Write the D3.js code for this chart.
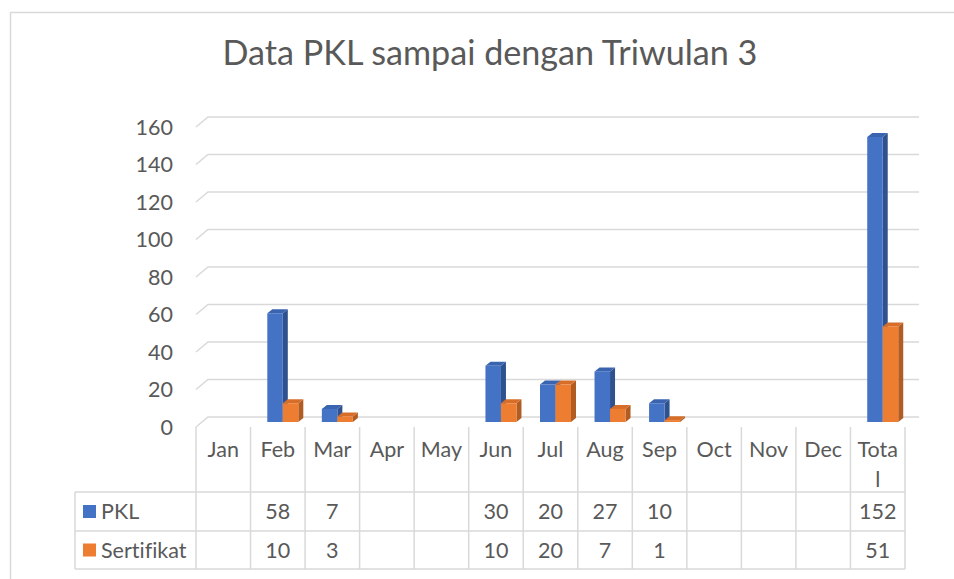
<!DOCTYPE html>
<html>
<head>
<meta charset="utf-8">
<script src="https://cdnjs.cloudflare.com/ajax/libs/d3/7.8.5/d3.min.js"></script>
<style>
  body { margin: 0; background: #fff; }
  svg text { font-family: Lato, "Open Sans", sans-serif; fill: #595959; font-variant-ligatures: none; }
</style>
</head>
<body>
<div id="chart"></div>
<script>
// Chart data
var categories = ["Jan", "Feb", "Mar", "Apr", "May", "Jun", "Jul", "Aug", "Sep", "Oct", "Nov", "Dec", "Total"];
var pkl        = [null, 58, 7, null, null, 30, 20, 27, 10, null, null, null, 152];
var sertifikat = [null, 10, 3, null, null, 10, 20, 7, 1, null, null, null, 51];
var seriesNames = ["PKL", "Sertifikat"];
var yTicks = [0, 20, 40, 60, 80, 100, 120, 140, 160];
var title = "Data PKL sampai dengan Triwulan 3";

var frame_width  = 954,
    frame_height = 579,
    front        = {left: 196, right: 905, floor: 427},
    depth        = {dx: 12, dy: -10},      // back wall offset from the front edge
    barDepth     = {dx: 5, dy: -4},
    barWidth     = 15.5,
    rowLines     = [492, 531, 569],
    tableLeft    = 75,
    fontSize     = 21.5;

var colors = [
    {front: "#4472C4", side: "#2F528F", top: "#3A64AF"},
    {front: "#ED7D31", side: "#B05C22", top: "#D66E2A"}
];

var svg = d3.select("#chart").append("svg")
    .attr("width", frame_width)
    .attr("height", frame_height);

// chart area border
svg.append("rect")
    .attr("x", 10.5).attr("y", 12.5)
    .attr("width", 960).attr("height", 600)
    .attr("fill", "#fff")
    .attr("stroke", "#D9D9D9")
    .attr("stroke-width", 1.5);

var titleText = svg.append("text")
    .attr("x", 490)
    .attr("y", 65)
    .attr("text-anchor", "middle")
    .attr("font-size", 32)
    .text(title);
// fit title to the width it has in the original
var tw = titleText.node().getComputedTextLength();
titleText.attr("font-size", 32 * 535 / tw);

var x = d3.scaleBand()
    .domain(categories)
    .range([front.left, front.right]);

// y on the back wall
var y = d3.scaleLinear()
    .domain([0, 160])
    .range([front.floor + depth.dy, front.floor + depth.dy - 300]);

// Gridlines: short side-wall diagonal + back wall line
var grid = svg.append("g")
    .attr("fill", "none")
    .attr("stroke", "#D9D9D9")
    .attr("stroke-width", 1.5);

yTicks.forEach(function(t) {
    grid.append("path")
        .attr("d", "M" + front.left + "," + (y(t) - depth.dy) +
                   "L" + (front.left + depth.dx) + "," + y(t) +
                   "L" + (front.right + depth.dx + 2) + "," + y(t));
});

// y axis labels aligned with the front edge
svg.append("g").selectAll("text")
    .data(yTicks)
    .enter().append("text")
    .attr("x", 173)
    .attr("y", function(d) { return y(d) - depth.dy; })
    .attr("dy", "0.35em")
    .attr("text-anchor", "end")
    .attr("font-size", fontSize)
    .text(function(d) { return d; });

// Bars at mid depth
var midX = depth.dx / 2 - 1,
    midY = -depth.dy / 2;

function yBar(v) { return y(v) + midY; }

var series = [pkl, sertifikat];
var bars = svg.append("g");

categories.forEach(function(c, i) {
    series.forEach(function(s, k) {
        var v = s[i];
        if (v == null) return;
        var x0 = x(c) + x.bandwidth() / 2 + midX - barWidth + k * barWidth,
            x1 = x0 + barWidth,
            y0 = yBar(0),
            y1 = yBar(v),
            col = colors[k];
        // side face
        bars.append("path")
            .attr("d", "M" + x1 + "," + y0 + "L" + x1 + "," + y1 +
                       "L" + (x1 + barDepth.dx) + "," + (y1 + barDepth.dy) +
                       "L" + (x1 + barDepth.dx) + "," + (y0 + barDepth.dy) + "Z")
            .attr("fill", col.side);
        // top face
        bars.append("path")
            .attr("d", "M" + x0 + "," + y1 + "L" + x1 + "," + y1 +
                       "L" + (x1 + barDepth.dx) + "," + (y1 + barDepth.dy) +
                       "L" + (x0 + barDepth.dx) + "," + (y1 + barDepth.dy) + "Z")
            .attr("fill", col.top);
        // front face
        bars.append("rect")
            .attr("x", x0)
            .attr("y", y1)
            .attr("width", barWidth)
            .attr("height", y0 - y1)
            .attr("fill", col.front);
    });
});

// Data table
var table = svg.append("g")
    .attr("stroke", "#D9D9D9")
    .attr("stroke-width", 1.5);

categories.forEach(function(c, i) {
    table.append("line")
        .attr("x1", x(c)).attr("x2", x(c))
        .attr("y1", front.floor).attr("y2", rowLines[2]);
});
table.append("line")
    .attr("x1", front.right).attr("x2", front.right)
    .attr("y1", front.floor).attr("y2", rowLines[2]);
table.append("line")
    .attr("x1", tableLeft).attr("x2", tableLeft)
    .attr("y1", rowLines[0]).attr("y2", rowLines[2]);
rowLines.forEach(function(r) {
    table.append("line")
        .attr("x1", tableLeft).attr("x2", front.right)
        .attr("y1", r).attr("y2", r);
});

// category labels, wrapped by character if too wide for the cell
var catLabels = svg.append("g");
categories.forEach(function(c) {
    var t = catLabels.append("text")
        .attr("x", x(c) + x.bandwidth() / 2)
        .attr("y", 457)
        .attr("text-anchor", "middle")
        .attr("font-size", fontSize)
        .text(c);
    if (t.node().getComputedTextLength() > x.bandwidth() - 12) {
        t.text(null);
        t.append("tspan").attr("x", x(c) + x.bandwidth() / 2).text(c.slice(0, -1));
        t.append("tspan").attr("x", x(c) + x.bandwidth() / 2).attr("dy", 30).text(c.slice(-1));
    }
});

// series rows
series.forEach(function(s, k) {
    var rowMid = (rowLines[k] + rowLines[k + 1]) / 2;
    svg.append("rect")
        .attr("x", 83).attr("y", rowMid - 6.5)
        .attr("width", 13).attr("height", 13)
        .attr("fill", colors[k].front);
    svg.append("text")
        .attr("x", 101)
        .attr("y", rowMid)
        .attr("dy", "0.35em")
        .attr("font-size", fontSize)
        .text(seriesNames[k]);
    svg.append("g").selectAll("text")
        .data(categories)
        .enter().append("text")
        .attr("x", function(c) { return x(c) + x.bandwidth() / 2; })
        .attr("y", rowMid)
        .attr("dy", "0.35em")
        .attr("text-anchor", "middle")
        .attr("font-size", fontSize)
        .text(function(c, i) { return s[i] == null ? "" : s[i]; });
});
</script>
</body>
</html>
